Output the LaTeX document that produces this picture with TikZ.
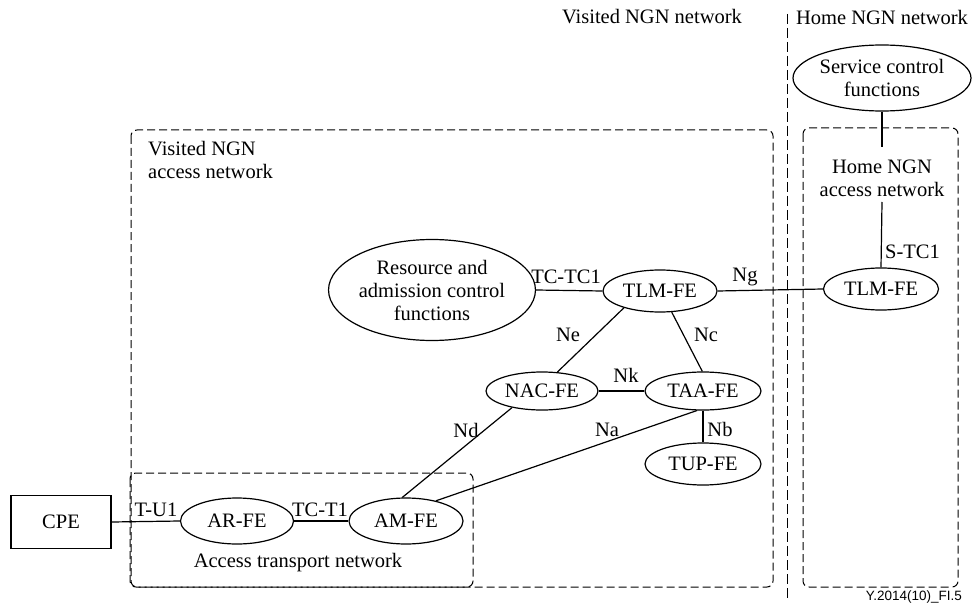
\documentclass[tikz,border=0pt]{standalone}
\usepackage{fontspec}
\setmainfont{Liberation Serif}
\newfontfamily\labelsans{Liberation Sans}
\usetikzlibrary{shapes.geometric,calc}
\begin{document}
\begin{tikzpicture}[x=1pt,y=-1pt,
  every node/.style={font=\fontsize{20.5}{23}\selectfont, inner sep=0pt},
  fe/.style={ellipse, draw, line width=1.2pt, align=center},
  cpebox/.style={rectangle, draw, line width=1.2pt},
  link/.style={line width=1.2pt},
  region/.style={draw, line width=1pt, dash pattern=on 8pt off 4pt, rounded corners=6pt},
  divider/.style={line width=1pt, dash pattern=on 10pt off 4pt},
  lbl/.style={}]
\useasboundingbox (0,0) rectangle (973,612);

% domain headings and divider
\node (visitedhdr) at (652,17) {Visited NGN network};
\node (homehdr) at (882,17) {Home NGN network};
\draw[divider] (787,14) -- (787,600);

% dashed regions
\draw[region] (131,130) rectangle (773,587);
\draw[region] (130,473) rectangle (473,587);
\draw[region] (803,128) rectangle (958,587);

\node[anchor=north west, align=left] (vacc) at (148,141) {Visited NGN\\access network};
\node[align=center] (hacc) at (882,178) {Home NGN\\access network};
\node (atn) at (298,563) {Access transport network};

% functional entities
\node[fe, minimum width=178pt, minimum height=66pt] (scf) at (882,78) {Service control\\functions};
\node[fe, minimum width=115pt, minimum height=42pt] (htlm) at (881,289) {TLM-FE};
\node[fe, minimum width=191pt, minimum height=101pt] (racf) at (432,290) {Resource and\\admission control\\functions};
\node[fe, minimum width=114pt, minimum height=42pt] (tlm) at (660,291) {TLM-FE};
\node[fe, minimum width=112pt, minimum height=38pt] (nac) at (542,391) {NAC-FE};
\node[fe, minimum width=116pt, minimum height=38pt] (taa) at (703,391) {TAA-FE};
\node[fe, minimum width=116pt, minimum height=42pt] (tup) at (703,464) {TUP-FE};
\node[fe, minimum width=113pt, minimum height=46pt] (ar) at (237,521) {AR-FE};
\node[fe, minimum width=114pt, minimum height=46pt] (am) at (406,521) {AM-FE};
\node[cpebox, minimum width=100pt, minimum height=53pt] (cpe) at (61,522) {CPE};

% connectors
\coordinate (scfend) at (882,147);
\coordinate (stcstart) at (882,202);
\draw[link] (scf.south) -- (scfend);
\draw[link] (stcstart) -- (htlm.north);
\draw[link] (racf.east) -- (tlm.west);
\draw[link] (tlm.east) -- (htlm.west);
\draw[link] (tlm.205) -- (nac.51);
\draw[link] (tlm.299) -- (taa.92);
\draw[link] (nac.east) -- (taa.west);
\draw[link] (taa.south) -- (tup.north);
\draw[link] (nac.209) -- (am.99);
\draw[link] (taa.253) -- (am.34);
\draw[link] (cpe.east) -- (ar.west);
\draw[link] (ar.east) -- (am.west);

% reference point labels
\node[lbl] (ltctc) at (566,277) {TC-TC1};
\node[lbl] (lng) at (745,277) {Ng};
\node[lbl, anchor=west] (lstc) at (885,252) {S-TC1};
\node[lbl] (lne) at (568,335) {Ne};
\node[lbl] (lnc) at (706,335) {Nc};
\node[lbl] (lnk) at (626,375) {Nk};
\node[lbl] (lnd) at (466,430) {Nd};
\node[lbl] (lna) at (607,430) {Na};
\node[lbl] (lnb) at (720,429) {Nb};
\node[lbl] (ltu) at (156,510) {T-U1};
\node[lbl] (ltct) at (320,510) {TC-T1};

% figure tag
\node[anchor=east, font=\labelsans\fontsize{13.5}{15}\selectfont] (tag) at (962,597) {Y.2014(10)\_FI.5};
\end{tikzpicture}
\end{document}
